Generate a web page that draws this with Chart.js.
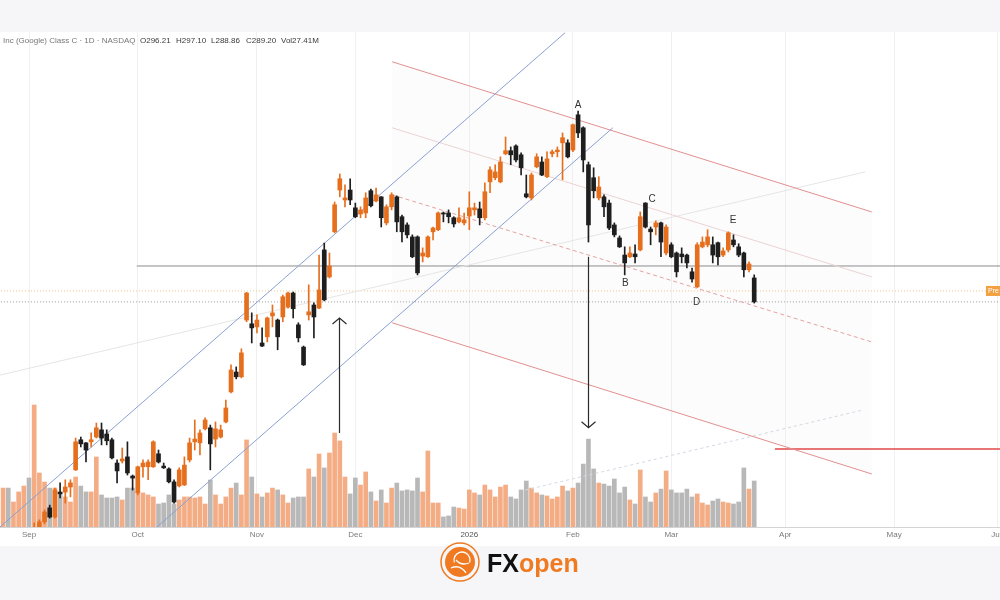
<!DOCTYPE html>
<html>
<head>
<meta charset="utf-8">
<script src="https://cdn.jsdelivr.net/npm/chart.js@4.4.1/dist/chart.umd.min.js"></script>
<style>
  html, body { margin: 0; padding: 0; background: #f6f6f8; }
  canvas { display: block; }
</style>
</head>
<body>
<canvas id="chart" width="1000" height="600"></canvas>
<script>
// GOOG daily — candles + volume, with the drawn channels / pitchfork on top

// x = trading day index, 0 = 2 Sep 2025
const firstDay = -5;
const monthTicks = [0, 21, 44, 63, 85, 105, 124, 146, 167, 187];
const monthLabels = ['Sep', 'Oct', 'Nov', 'Dec', '2026', 'Feb', 'Mar', 'Apr', 'May', 'Jun'];

const opens = [
  207.5, 209, 208, 209, 210.5, 212.5,
  220, 223.4, 224.9, 229.0, 226.3, 233.6, 233.6, 235.1, 240.1, 248.9,
  248.0, 248.3, 249.7, 251.8, 250.6, 248.9, 242.1, 242.7, 243.9, 238.3,
  233.4, 241.0, 241.0, 241.0, 244.8, 241.2, 240.4, 236.6, 235.4, 235.7,
  243.0, 248.3, 248.0, 252.1, 252.4, 249.1, 249.7, 254.1, 262.9, 268.7,
  267.3, 283.9, 282.8, 281.9, 277.2, 279.0, 285.1, 283.9, 284.8, 287.7,
  291.8, 282.5, 276.0, 285.4, 288.3, 287.4, 304.4, 296.5, 309.7, 321.9,
  319.0, 321.9, 316.7, 314.9, 315.2, 321.7, 318.7, 319.9, 312.3, 317.0,
  319.9, 314.1, 311.7, 308.2, 308.2, 302.6, 302.4, 309.7, 310.3, 315.2,
  315.2, 313.8, 312.6, 312.3, 314.3, 316.1, 316.4, 313.8, 324.3, 325.5,
  324.3, 332.5, 333.4, 334.8, 332.2, 320.8, 319.6, 328.7, 330.1, 325.8,
  332.5, 333.1, 335.7, 335.7, 333.6, 343.9, 340.1, 329.3, 325.5, 319.6,
  319.9, 318.1, 311.7, 307.9, 302.9, 302.4, 303.2, 304.4, 318.1, 310.5,
  311.1, 312.3, 303.5, 305.9, 303.5, 303.2, 302.9, 298.0, 293.6, 305.3,
  305.9, 305.9, 306.5, 302.9, 304.4, 307.3, 305.3, 303.5, 298.6, 296.21
];
const highs = [
  210, 210.5, 209.5, 211, 213, 214,
  224.6, 225.5, 228.4, 229.8, 234.8, 236.3, 237.2, 237.2, 249.4, 249.7,
  248.1, 250.9, 253.8, 253.8, 251.8, 249.4, 243.0, 246.5, 248.3, 238.6,
  241.2, 243.0, 243.0, 248.6, 245.9, 242.1, 240.7, 237.2, 240.7, 243.9,
  249.4, 254.7, 251.8, 255.3, 253.2, 254.1, 253.2, 260.5, 270.8, 270.2,
  275.5, 292.0, 286.0, 285.4, 281.6, 284.8, 288.3, 284.2, 291.2, 292.1,
  292.1, 283.1, 276.3, 294.2, 288.9, 302.9, 306.4, 303.5, 318.4, 326.6,
  323.4, 325.2, 318.1, 317.0, 321.1, 322.2, 322.5, 320.0, 317.6, 321.1,
  320.2, 314.6, 312.3, 308.8, 308.5, 305.0, 308.5, 311.1, 315.5, 315.5,
  316.1, 314.1, 316.7, 315.2, 321.4, 318.1, 318.4, 324.0, 328.7, 329.3,
  331.6, 337.4, 334.5, 335.1, 332.8, 326.3, 326.9, 332.5, 331.6, 333.1,
  333.6, 334.5, 338.6, 336.6, 341.2, 345.0, 340.4, 330.1, 328.4, 325.8,
  320.5, 319.0, 312.3, 308.5, 305.3, 305.3, 305.9, 315.5, 318.2, 311.1,
  312.9, 312.5, 311.7, 306.5, 303.8, 305.0, 303.2, 299.1, 306.5, 308.2,
  310.3, 308.2, 306.7, 305.0, 309.7, 308.8, 306.2, 303.8, 300.9, 297.10
];
const lows = [
  206.5, 207, 207, 208, 209.5, 210.5,
  219, 222.8, 224.3, 226.0, 226.0, 231.9, 230.4, 232.2, 239.9, 246.8,
  242.4, 246.8, 249.4, 247.4, 247.4, 243.3, 236.3, 242.1, 238.6, 234.2,
  232.8, 238.0, 237.2, 240.8, 242.1, 240.5, 236.3, 230.4, 235.1, 235.5,
  242.4, 245.9, 244.5, 251.8, 240.1, 246.8, 249.4, 253.8, 262.6, 266.7,
  267.0, 283.4, 277.2, 280.1, 276.1, 277.5, 281.9, 275.2, 283.4, 287.4,
  284.5, 277.5, 270.6, 283.9, 278.7, 287.2, 289.5, 296.2, 309.4, 319.9,
  317.0, 317.6, 313.8, 313.8, 313.8, 317.0, 318.4, 311.1, 311.7, 316.1,
  309.7, 306.7, 307.9, 302.1, 297.1, 300.9, 302.2, 307.3, 310.0, 312.6,
  312.3, 311.1, 312.3, 311.7, 310.3, 314.6, 311.7, 313.2, 321.1, 324.9,
  324.0, 332.2, 329.3, 330.1, 326.3, 319.6, 319.0, 328.4, 326.1, 325.5,
  331.6, 331.6, 324.9, 331.3, 333.1, 337.2, 327.2, 306.7, 319.6, 319.0,
  314.1, 310.3, 308.2, 305.1, 297.1, 302.1, 300.6, 304.1, 310.8, 305.9,
  308.8, 302.4, 302.9, 302.1, 296.5, 300.6, 299.1, 295.0, 293.4, 305.0,
  305.3, 300.6, 300.0, 302.4, 303.8, 305.3, 302.4, 296.5, 298.0, 288.86
];
const closes = [
  209, 208, 209, 210.5, 212.5, 211.5,
  223, 224.9, 227.8, 226.3, 234.2, 233.1, 235.1, 236.3, 248.3, 247.7,
  245.9, 248.9, 252.4, 249.4, 248.6, 243.6, 239.8, 243.3, 239.2, 237.7,
  241.0, 242.1, 242.4, 248.3, 242.4, 240.7, 236.6, 230.7, 240.1, 241.5,
  248.0, 249.1, 250.9, 254.7, 247.7, 252.1, 251.8, 258.2, 269.3, 267.3,
  274.3, 291.8, 281.6, 283.9, 276.3, 284.5, 286.0, 279.0, 290.7, 291.8,
  287.2, 278.7, 270.8, 286.3, 284.8, 292.7, 289.8, 299.7, 317.6, 325.2,
  319.6, 319.0, 314.1, 316.1, 319.6, 317.3, 320.5, 313.8, 317.0, 320.5,
  312.6, 309.7, 308.8, 302.4, 297.7, 303.5, 308.2, 310.8, 315.2, 314.9,
  314.1, 312.0, 313.8, 313.2, 316.7, 316.7, 313.8, 321.4, 327.8, 327.2,
  330.1, 333.4, 332.2, 330.7, 328.4, 319.9, 326.3, 331.6, 326.3, 331.0,
  333.1, 333.6, 337.2, 331.6, 341.0, 338.6, 330.7, 311.7, 321.7, 322.8,
  317.0, 310.8, 308.8, 305.3, 300.6, 303.5, 302.4, 314.1, 311.1, 309.7,
  312.3, 306.7, 311.1, 302.4, 298.0, 302.4, 300.6, 295.9, 305.9, 306.7,
  308.2, 302.9, 302.4, 304.1, 309.4, 305.9, 302.9, 298.6, 300.3, 289.20
];
// volume, millions
const volumes = [
  23.2, 23.2, 14.9, 20.9, 24.4, 29.2,
  72.7, 32.2, 26.8, 23.2, 23.2, 20.9, 17.9, 14.9, 29.8, 24.4,
  20.9, 20.9, 41.7, 19.1, 17.3, 17.3, 17.9, 16.1, 23.2, 23.2,
  20.9, 20.3, 19.1, 17.9, 13.7, 14.3, 19.1, 13.7, 16.1, 17.9,
  17.9, 17.3, 17.9, 13.7, 28.0, 19.1, 13.7, 17.9, 23.2, 26.2,
  19.1, 51.9, 29.8, 19.7, 17.9, 20.3, 23.2, 22.1, 19.1, 14.3,
  17.3, 17.9, 17.9, 34.6, 29.8, 43.5, 35.2, 44.1, 56.0, 51.3,
  29.8, 19.7, 29.2, 25.0, 32.8, 20.9, 15.5, 22.1, 14.3, 23.2,
  26.2, 21.5, 22.1, 21.5, 29.2, 20.9, 45.3, 14.3, 14.3, 6.0,
  6.6, 11.9, 11.3, 10.7, 22.1, 20.3, 19.1, 25.0, 22.1, 17.9,
  23.8, 25.0, 17.9, 16.7, 22.1, 27.4, 23.2, 20.3, 19.1, 18.5,
  16.7, 17.9, 24.4, 21.5, 23.2, 26.2, 37.5, 52.4, 34.6, 26.2,
  25.6, 24.4, 28.6, 20.3, 23.8, 16.1, 13.7, 34.0, 17.9, 14.9,
  20.3, 22.6, 33.4, 22.1, 20.3, 20.3, 22.6, 17.9, 19.7, 14.3,
  13.1, 15.5, 16.7, 14.9, 14.3, 13.7, 14.9, 35.2, 22.6, 27.41
];

// drawn tools, in (day index, price)
const trendLines = [
  { from: [-5.6, 223.4], to: [103.5, 367.9], color: '#8aa0d2', dash: [] },
  { from: [24.7, 223.4], to: [112.7, 340.1], color: '#8aa0d2', dash: [] },
  { from: [70.1, 359.4], to: [162.7, 315.5], color: '#e29090', dash: [] },
  { from: [70.1, 340.1], to: [162.7, 296.5], color: '#ecd3d3', dash: [] },
  { from: [70.1, 320.5], to: [162.7, 277.5], color: '#e3a3a3', dash: [4, 3] },
  { from: [70.1, 283.1], to: [162.7, 238.9], color: '#e29090', dash: [] },
  { from: [-5.6, 267.8], to: [161.4, 327.2], color: '#e6e6e6', dash: [] },
  { from: [95.8, 234.2], to: [161.0, 257.6], color: '#d3d8e2', dash: [3, 3] },
  { from: [20.8, 299.7], to: [188, 299.7], color: '#8c8c8c', dash: [] },
  { from: [-6, 292.4], to: [188, 292.4], color: '#f0c48c', dash: [1, 2] },
  { from: [-6, 289.2], to: [188, 289.2], color: '#9a9a9a', dash: [1, 2] },
  { from: [144.0, 246.2], to: [188, 246.2], color: '#e04848', dash: [], width: 1.5 },
];
const arrows = [
  { day: 59.9, from: 250.9, to: 284.5 },
  { day: 107.9, from: 302.4, to: 252.4 },
];
const waveLabels = [
  { text: 'A', day: 106.0, price: 346.8 },
  { text: 'B', day: 115.1, price: 294.7 },
  { text: 'C', day: 120.3, price: 319.3 },
  { text: 'D', day: 128.9, price: 289.2 },
  { text: 'E', day: 135.9, price: 313.2 },
];

const UP = '#e66f1e';
const DOWN = '#1e1e1e';

const days = opens.map((_, i) => firstDay + i);
const isUp = days.map((_, i) => closes[i] >= opens[i]);
const candleColors = isUp.map((u) => (u ? UP : DOWN));
const volColors = isUp.map((u) => (u ? 'rgba(242,158,110,0.85)' : 'rgba(172,172,172,0.85)'));

// фон: серые поля сверху/снизу, белая область графика
const backdrop = {
  id: 'backdrop',
  beforeDraw(chart) {
    const { ctx } = chart;
    ctx.save();
    ctx.fillStyle = '#f6f6f8';
    ctx.fillRect(0, 0, chart.width, chart.height);
    ctx.fillStyle = '#ffffff';
    ctx.fillRect(0, 32, chart.width, 514);
    ctx.restore();
  },
  beforeDatasetsDraw(chart) {
    // faint zone between the outer pitchfork lines
    const { ctx, scales } = chart;
    const top = trendLines[2], bot = trendLines[5];
    ctx.save();
    ctx.beginPath();
    ctx.rect(chart.chartArea.left, chart.chartArea.top, chart.chartArea.width, chart.chartArea.height);
    ctx.clip();
    ctx.fillStyle = 'rgba(235,225,225,0.09)';
    ctx.beginPath();
    ctx.moveTo(scales.x.getPixelForValue(top.from[0]), scales.y.getPixelForValue(top.from[1]));
    ctx.lineTo(scales.x.getPixelForValue(top.to[0]), scales.y.getPixelForValue(top.to[1]));
    ctx.lineTo(scales.x.getPixelForValue(bot.to[0]), scales.y.getPixelForValue(bot.to[1]));
    ctx.lineTo(scales.x.getPixelForValue(bot.from[0]), scales.y.getPixelForValue(bot.from[1]));
    ctx.closePath();
    ctx.fill();
    ctx.restore();
  },
};

const overlay = {
  id: 'overlay',
  afterDatasetsDraw(chart) {
    const { ctx, scales } = chart;
    ctx.save();
    ctx.strokeStyle = '#2a2a2a';
    ctx.lineWidth = 1.2;
    arrows.forEach((a) => {
      const x = Math.round(scales.x.getPixelForValue(a.day)) + 0.5;
      const y0 = scales.y.getPixelForValue(a.from);
      const y1 = scales.y.getPixelForValue(a.to);
      const dir = y1 < y0 ? 1 : -1;
      ctx.beginPath();
      ctx.moveTo(x, y0);
      ctx.lineTo(x, y1);
      ctx.moveTo(x - 7, y1 + dir * 6);
      ctx.lineTo(x, y1);
      ctx.lineTo(x + 7, y1 + dir * 6);
      ctx.stroke();
    });
    ctx.fillStyle = '#333';
    ctx.font = '10px "Liberation Sans", Arial, sans-serif';
    ctx.textAlign = 'center';
    ctx.textBaseline = 'middle';
    waveLabels.forEach((l) => {
      ctx.fillText(l.text, scales.x.getPixelForValue(l.day), scales.y.getPixelForValue(l.price));
    });
    ctx.restore();
  },
  afterDraw(chart) {
    const { ctx, scales } = chart;
    ctx.save();
    // month labels under the axis
    ctx.font = '8px "Liberation Sans", Arial, sans-serif';
    ctx.textAlign = 'center';
    ctx.textBaseline = 'middle';
    monthTicks.forEach((d, i) => {
      ctx.fillStyle = monthLabels[i] === '2026' ? '#555' : '#7a7a7a';
      ctx.fillText(monthLabels[i], scales.x.getPixelForValue(d), 535);
    });

    // header line
    ctx.textAlign = 'left';
    ctx.fillStyle = '#777';
    ctx.fillText('Inc (Google) Class C · 1D · NASDAQ', 3, 41);
    ctx.fillStyle = '#3a3a3a';
    [['O296.21', 140], ['H297.10', 176], ['L288.86', 211], ['C289.20', 246], ['Vol27.41M', 281]]
      .forEach(([t, x]) => ctx.fillText(t, x, 41));

    // price tag on the right edge
    const py = scales.y.getPixelForValue(292.4);
    ctx.fillStyle = '#f2a040';
    ctx.fillRect(986, py - 5, 14, 10);
    ctx.fillStyle = '#fff';
    ctx.font = '7px "Liberation Sans", Arial, sans-serif';
    ctx.fillText('Pre', 988, py + 0.5);

    // FXopen logo
    const cx = 460, cy = 562;
    ctx.strokeStyle = '#ef7a22';
    ctx.lineWidth = 1.5;
    ctx.beginPath();
    ctx.arc(cx, cy, 19, 0, Math.PI * 2);
    ctx.stroke();
    ctx.fillStyle = '#ef7a22';
    ctx.beginPath();
    ctx.arc(cx, cy, 15, 0, Math.PI * 2);
    ctx.fill();
    ctx.strokeStyle = '#fff';
    ctx.lineWidth = 1.3;
    ctx.beginPath();
    ctx.arc(cx + 2, cy - 2, 8, Math.PI * 0.9, Math.PI * 2.1);
    ctx.moveTo(cx - 9, cy + 6);
    ctx.quadraticCurveTo(cx, cy + 2, cx + 6, cy + 11);
    ctx.moveTo(cx - 4, cy - 2);
    ctx.quadraticCurveTo(cx + 1, cy + 4, cx + 9, cy + 1);
    ctx.stroke();

    ctx.font = 'bold 25px "Liberation Sans", Arial, sans-serif';
    ctx.textBaseline = 'alphabetic';
    ctx.fillStyle = '#111';
    ctx.fillText('FX', 487, 572);
    const fxw = ctx.measureText('FX').width;
    ctx.fillStyle = '#ef7a22';
    ctx.fillText('open', 487 + fxw, 572);
    ctx.restore();
  },
};

const lineSets = trendLines.map((l) => ({
  type: 'line',
  data: [{ x: l.from[0], y: l.from[1] }, { x: l.to[0], y: l.to[1] }],
  borderColor: l.color,
  borderWidth: l.width || 1,
  borderDash: l.dash,
  pointRadius: 0,
  fill: false,
  tension: 0,
  yAxisID: 'y',
  order: 10,
}));

const data = {
  datasets: [
    {
      type: 'bar',
      label: 'Volume',
      data: days.map((d, i) => ({ x: d, y: volumes[i] })),
      backgroundColor: volColors,
      barThickness: 4,
      grouped: false,
      yAxisID: 'yv',
      order: 20,
    },
    ...lineSets,
    {
      type: 'bar',
      label: 'Wicks',
      data: days.map((d, i) => ({ x: d, y: [lows[i], highs[i]] })),
      backgroundColor: candleColors,
      barThickness: 1,
      grouped: false,
      yAxisID: 'y',
      order: 2,
    },
    {
      type: 'bar',
      label: 'Bodies',
      data: days.map((d, i) => ({ x: d, y: [opens[i], closes[i]] })),
      backgroundColor: candleColors,
      barThickness: 4,
      minBarLength: 1,
      grouped: false,
      yAxisID: 'y',
      order: 1,
    },
  ],
};

const options = {
  responsive: false,
  animation: false,
  devicePixelRatio: 1,
  layout: { padding: { top: 32, bottom: 73, left: 0, right: 0 } },
  plugins: { legend: { display: false }, tooltip: { enabled: false } },
  scales: {
    x: {
      type: 'linear',
      min: -5.6,
      max: 187.45,
      offset: false,
      afterBuildTicks(scale) {
        scale.ticks = monthTicks.map((v) => ({ value: v }));
      },
      ticks: { display: false },
      grid: { color: '#f0f0f2', drawTicks: false, offset: false },
      border: { color: '#d4d4d4' },
    },
    y: { display: false, min: 223.4, max: 368.1 },
    yv: { display: false, min: 0, max: 295 },
  },
};

new Chart(document.getElementById('chart').getContext('2d'), {
  type: 'bar',
  data,
  options,
  plugins: [backdrop, overlay],
});
</script>
</body>
</html>
